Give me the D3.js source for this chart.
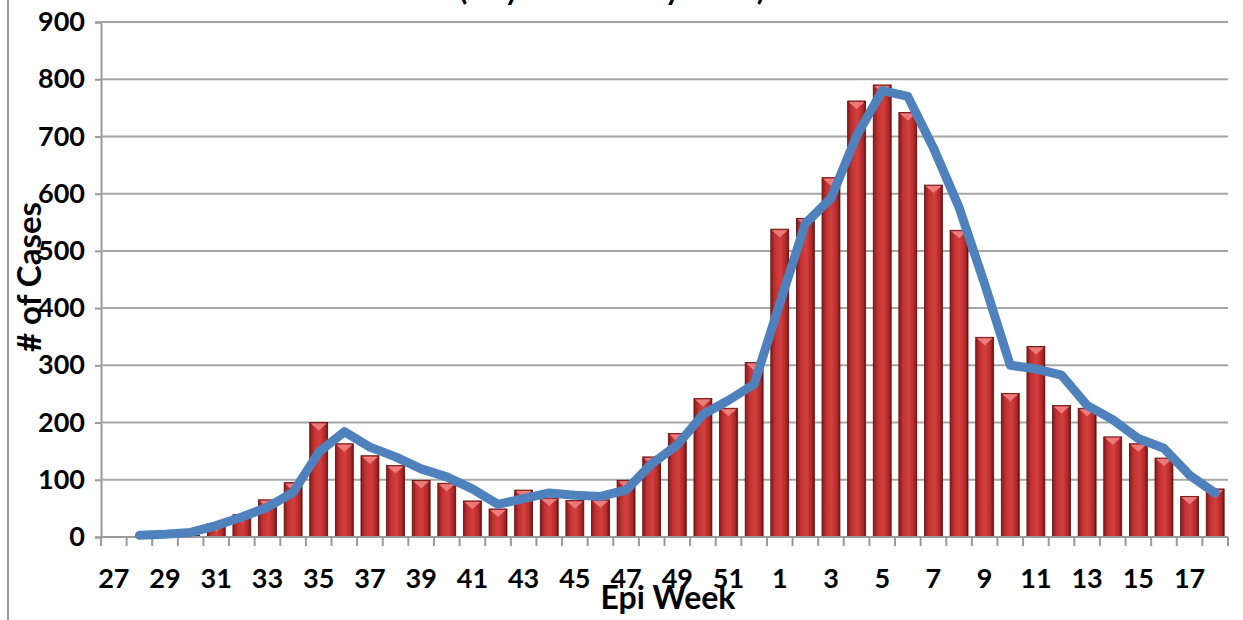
<!DOCTYPE html>
<html>
<head>
<meta charset="utf-8">
<title>Epi Week cases</title>
<style>
  body { margin: 0; background: #fff; }
  svg text { font-family: Lato, "Open Sans", sans-serif; font-weight: bold; fill: #000; }
</style>
<script src="https://d3js.org/d3.v7.min.js"></script>
</head>
<body>
<div id="chart"></div>
<script>
// epi weeks, July through May
const weeks = [27,28,29,30,31,32,33,34,35,36,37,38,39,40,41,42,43,44,45,46,47,48,49,50,51,52,
               1,2,3,4,5,6,7,8,9,10,11,12,13,14,15,16,17,18];
const cases = [1,1,2,3,23,39,65,95,200,163,142,125,99,94,63,49,82,68,64,65,99,140,181,242,225,305,
               538,557,628,762,790,742,615,536,349,251,333,230,225,175,163,138,71,84];
// moving average line (starts at week 28)
const trend = [null,3,5,8,20,35,52,78,148,184,157,140,119,105,84,57,67,77,73,71,82,128,161,214,239,267,
               408,548,592,701,780,770,680,576,442,300,294,283,230,205,172,155,108,77];
const yTicks = [0,100,200,300,400,500,600,700,800,900];

const W = 1243, H = 620;
const pLeft = 101, pRight = 1228, pTop = 22, pBottom = 537;

const svg = d3.select("#chart").append("svg")
  .attr("width", W).attr("height", H);

// bar gradient
const defs = svg.append("defs");
const g1 = defs.append("linearGradient").attr("id", "barGrad")
  .attr("x1", "0").attr("x2", "1").attr("y1", "0").attr("y2", "0");
g1.append("stop").attr("offset", "0%").attr("stop-color", "#8a1a1a");
g1.append("stop").attr("offset", "25%").attr("stop-color", "#c33333");
g1.append("stop").attr("offset", "55%").attr("stop-color", "#d43f3f");
g1.append("stop").attr("offset", "85%").attr("stop-color", "#b02828");
g1.append("stop").attr("offset", "100%").attr("stop-color", "#721212");

// frame line at left
svg.append("line").attr("x1", 8).attr("x2", 8).attr("y1", 0).attr("y2", H)
  .attr("stroke", "#9a9a9a").attr("stroke-width", 2);

// title (cut off at top, only descenders show)
svg.append("text").attr("x", 612).attr("y", 0)
  .attr("text-anchor", "middle").style("font-size", "30px")
  .text("(July 2012 - May 2013)");

const x = d3.scaleBand().domain(d3.range(weeks.length)).range([pLeft, pRight]).paddingInner(0.3).paddingOuter(0.15);
const y = d3.scaleLinear().domain([0, 900]).range([pBottom, pTop]);

// grid + y axis
const yAxis = d3.axisLeft(y).tickValues(yTicks).tickSize(6).tickPadding(10);
const gy = svg.append("g").attr("transform", "translate(" + pLeft + ",0)").call(yAxis);
gy.select(".domain").attr("stroke", "#9a9a9a").attr("stroke-width", 2);
gy.selectAll(".tick line").attr("stroke", "#9a9a9a").attr("stroke-width", 2);
gy.selectAll(".tick text").style("font-size", "27px");

svg.append("g").selectAll("line")
  .data(yTicks.filter(d => d > 0))
  .enter().append("line")
  .attr("x1", pLeft).attr("x2", pRight)
  .attr("y1", d => y(d)).attr("y2", d => y(d))
  .attr("stroke", "#a6a6a6").attr("stroke-width", 2);

// bars
const barData = cases.map((v, i) => ({ v, i }));
const bars = svg.append("g").selectAll("g")
  .data(barData).enter().append("g");
bars.append("rect")
  .attr("x", d => x(d.i))
  .attr("y", d => y(d.v))
  .attr("width", x.bandwidth())
  .attr("height", d => pBottom - y(d.v))
  .attr("fill", "url(#barGrad)")
  .attr("stroke", "#5e0c0c").attr("stroke-width", 0.8);
bars.filter(d => pBottom - y(d.v) > 8).append("path")
  .attr("d", d => {
    const bx = x(d.i), w = x.bandwidth(), yt = y(d.v);
    return "M" + (bx + 1) + "," + (yt + 1) + "L" + (bx + w - 1) + "," + (yt + 1) + "L" + (bx + w / 2) + "," + (yt + 8) + "Z";
  })
  .attr("fill", "#ee7b7b");

// x axis line and boundary ticks
svg.append("line").attr("x1", pLeft).attr("x2", pRight).attr("y1", pBottom).attr("y2", pBottom)
  .attr("stroke", "#9a9a9a").attr("stroke-width", 2);
svg.append("g").selectAll("line")
  .data(d3.range(weeks.length + 1)).enter().append("line")
  .attr("x1", i => pLeft + (pRight - pLeft) * i / weeks.length)
  .attr("x2", i => pLeft + (pRight - pLeft) * i / weeks.length)
  .attr("y1", pBottom).attr("y2", pBottom + 9)
  .attr("stroke", "#9a9a9a").attr("stroke-width", 2);

// x labels, every other week
svg.append("g").selectAll("text")
  .data(weeks.map((w, i) => ({ w, i })).filter(d => d.i % 2 === 0))
  .enter().append("text")
  .attr("x", d => x(d.i) + x.bandwidth() / 2)
  .attr("y", 588)
  .attr("text-anchor", "middle")
  .style("font-size", "27px")
  .text(d => d.w);

// trend line
const line = d3.line()
  .defined(d => d != null)
  .x((d, i) => x(i) + x.bandwidth() / 2)
  .y(d => y(d));
svg.append("path").datum(trend)
  .attr("d", line)
  .attr("fill", "none")
  .attr("stroke", "#4f81bd")
  .attr("stroke-width", 9)
  .attr("stroke-linecap", "round")
  .attr("stroke-linejoin", "round");

// axis titles
svg.append("text").attr("x", 668).attr("y", 609)
  .attr("text-anchor", "middle").style("font-size", "32px").text("Epi Week");
svg.append("text")
  .attr("transform", "translate(41,277) rotate(-90)")
  .attr("text-anchor", "middle").style("font-size", "33px").text("# of Cases");
</script>
</body>
</html>
